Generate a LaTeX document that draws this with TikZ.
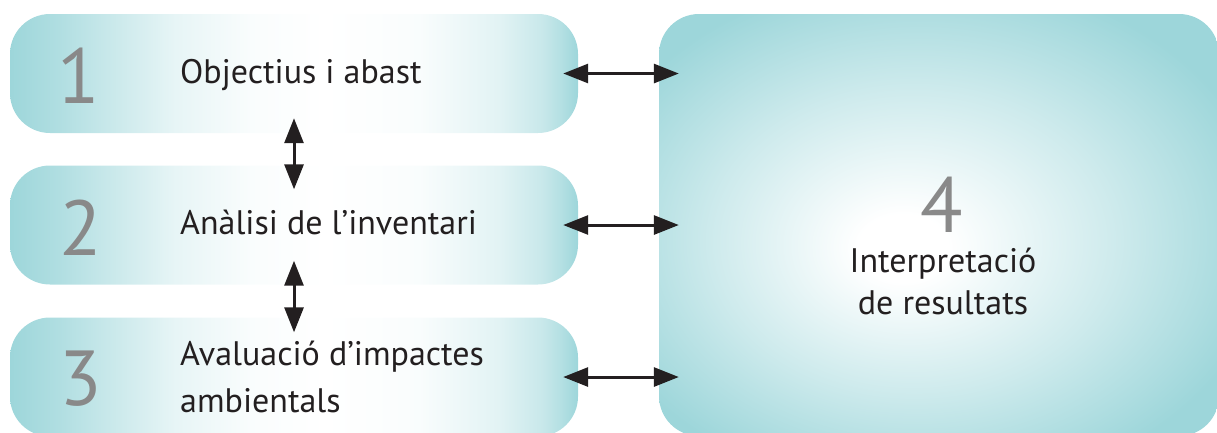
\documentclass[tikz,border=0pt]{standalone}
\usepackage{fontspec}
\setmainfont{PT Sans}
\usetikzlibrary{arrows.meta}
\definecolor{tealc}{RGB}{157,214,218}
\definecolor{numgray}{RGB}{137,137,137}
\definecolor{txt}{RGB}{35,31,32}
\pgfdeclarehorizontalshading{boxshade}{100bp}{color(0bp)=(tealc); color(25bp)=(tealc); color(29.4bp)=(tealc!80); color(32.9bp)=(tealc!60); color(39.5bp)=(tealc!25); color(46.1bp)=(tealc!6); color(52.7bp)=(white); color(61.1bp)=(tealc!6); color(68.1bp)=(tealc!30); color(71.7bp)=(tealc!55); color(73.4bp)=(tealc!75); color(75bp)=(tealc); color(100bp)=(tealc)}
\pgfdeclareradialshading{bigshade}{\pgfpoint{-3.5bp}{-3bp}}{color(0bp)=(white); color(4bp)=(white); color(18bp)=(tealc!50); color(31bp)=(tealc); color(50bp)=(tealc)}
\begin{document}
\begin{tikzpicture}[x=1pt,y=-1pt,
  box/.style={rectangle, rounded corners=40pt, shade, shading=boxshade, shading angle=0,
    minimum width=568pt, minimum height=119pt, inner sep=0pt},
  bigbox/.style={rectangle, rounded corners=40pt, shade, shading=bigshade,
    minimum width=560pt, minimum height=422pt, inner sep=0pt},
  num/.style={text=numgray, font=\fontsize{78}{78}\selectfont, inner sep=0pt, anchor=base},
  lbl/.style={text=txt, font=\fontsize{34}{46.7}\selectfont, inner sep=0pt, anchor=base west, align=left},
  arr/.style={{Triangle[length=25pt,width=19pt]}-{Triangle[length=25pt,width=19pt]}, line width=3pt, draw=txt, color=txt}]
\path[use as bounding box, clip] (0,0) rectangle (1217,432);
\node[box] (b1) at (294,73.5) {};
\node[box] (b2) at (294,225) {};
\node[box] (b3) at (294,377) {};
\node[bigbox] (b4) at (939,225) {};
\node[num] (n1) at (79,103) {1};
\node[num] (n2) at (81,255) {2};
\node[num] (n3) at (81,405) {3};
\node[num] (n4) at (942,232) {4};
\node[lbl] (t1) at (180,83) {Objectius i abast};
\node[lbl] (t2) at (180,234) {Anàlisi de l’inventari};
\node[lbl] (t3) at (180,412) {Avaluació d’impactes\\ambientals};
\node[lbl, anchor=base, align=center, font=\fontsize{34}{42}\selectfont] (t4) at (943,314) {Interpretació\\de resultats};
\draw[arr] ([xshift=-15pt]b1.east) -- ([xshift=20pt]b4.west |- b1.east);
\draw[arr] ([xshift=-15pt]b2.east) -- ([xshift=20pt]b4.west |- b2.east);
\draw[arr] ([xshift=-15pt]b3.east) -- ([xshift=20pt]b4.west |- b3.east);
\draw[arr] ([yshift=15pt]b1.south) -- ([yshift=-24pt]b2.north);
\draw[arr] ([yshift=24pt]b2.south) -- ([yshift=-15pt]b3.north);
\end{tikzpicture}
\end{document}
